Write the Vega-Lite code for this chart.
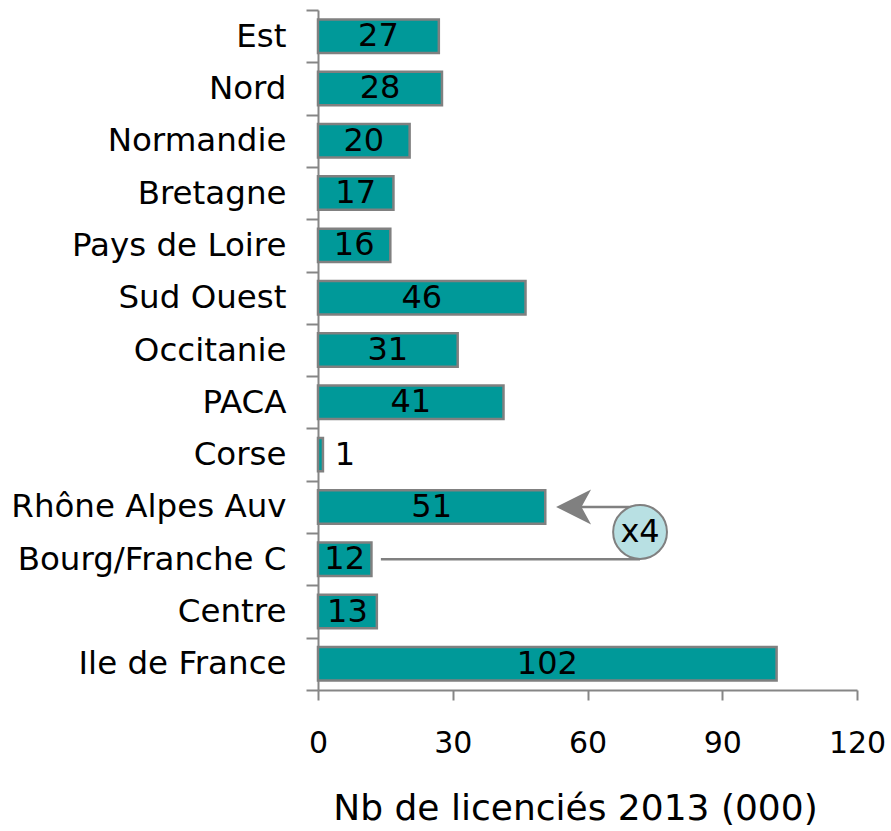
{
  "$schema": "https://vega.github.io/schema/vega-lite/v6.json",
  "autosize": {"type": "none"},
  "width": 539,
  "height": 680,
  "padding": {"left": 318, "top": 10, "right": 34, "bottom": 141},
  "background": "white",
  "config": {
    "view": {"stroke": null},
    "font": "DejaVu Sans",
    "axis": {"grid": false, "domainColor": "#868686", "domainWidth": 2, "tickColor": "#868686", "tickWidth": 2, "labelColor": "#000000", "labelFont": "DejaVu Sans", "titleFont": "DejaVu Sans", "titleColor": "#000000", "titleFontWeight": "normal", "labelLimit": 400}
  },
  "datasets": {
    "bars": [
      {"region": "Est", "v": 26.9},
      {"region": "Nord", "v": 27.6},
      {"region": "Normandie", "v": 20.4},
      {"region": "Bretagne", "v": 16.8},
      {"region": "Pays de Loire", "v": 16.1},
      {"region": "Sud Ouest", "v": 46.2},
      {"region": "Occitanie ", "v": 31.1},
      {"region": "PACA", "v": 41.3},
      {"region": "Corse", "v": 1.1},
      {"region": "Rhône Alpes Auv", "v": 50.6},
      {"region": "Bourg/Franche C", "v": 11.9},
      {"region": "Centre", "v": 13.1},
      {"region": "Ile de France", "v": 102.1}
    ],
    "segs": [
      {"x1": 57.5, "x2": 71.7, "pos": 9.5},
      {"x1": 14.0, "x2": 71.7, "pos": 10.5}
    ],
    "arrow": [{"x": 56.9, "pos": 9.5}],
    "bubble": [{"x": 71.7, "pos": 9.98, "label": "x4"}]
  },
  "layer": [
    {
      "data": {"name": "bars"},
      "transform": [{"calculate": "datum.v / 2", "as": "mid"}],
      "encoding": {
        "y": {
          "field": "region", "type": "nominal", "sort": null,
          "scale": {"paddingInner": 0, "paddingOuter": 0},
          "axis": {"title": null, "labelFontSize": 32.5, "labelPadding": 20, "tickSize": 12, "tickBand": "extent"}
        }
      },
      "layer": [
        {
          "mark": {"type": "bar", "fill": "#009999", "stroke": "#808080", "strokeWidth": 2.5, "height": {"band": 0.64}},
          "encoding": {
            "x": {
              "field": "v", "type": "quantitative",
              "scale": {"domain": [0, 120], "nice": false},
              "axis": {"values": [0, 30, 60, 90, 120], "tickSize": 10, "labelFontSize": 30, "labelPadding": 28, "labelFlush": false, "title": "Nb de licenciés 2013 (000)", "titleFontSize": 36, "titleX": 257, "titleY": 129, "titleAlign": "center", "titleBaseline": "alphabetic"}
            }
          }
        },
        {
          "transform": [{"filter": "datum.v >= 5"}],
          "mark": {"type": "text", "fontSize": 32, "color": "#000000", "align": "center", "baseline": "middle"},
          "encoding": {
            "x": {"field": "mid", "type": "quantitative", "scale": {"domain": [0, 120], "nice": false}},
            "text": {"field": "v", "type": "quantitative", "format": ".0f"}
          }
        },
        {
          "transform": [{"filter": "datum.v < 5"}],
          "mark": {"type": "text", "fontSize": 32, "color": "#000000", "align": "center", "baseline": "middle", "dx": 22},
          "encoding": {
            "x": {"field": "v", "type": "quantitative", "scale": {"domain": [0, 120], "nice": false}},
            "text": {"field": "v", "type": "quantitative", "format": ".0f"}
          }
        }
      ]
    },
    {
      "layer": [
        {
          "data": {"name": "segs"},
          "mark": {"type": "rule", "color": "#808080", "strokeWidth": 2.5},
          "encoding": {
            "x": {"field": "x1", "type": "quantitative", "scale": {"domain": [0, 120], "nice": false}},
            "x2": {"field": "x2"},
            "y": {"field": "pos", "type": "quantitative", "scale": {"domain": [13, 0], "nice": false, "zero": false}, "axis": null}
          }
        },
        {
          "data": {"name": "arrow"},
          "mark": {"type": "point", "shape": "M-1,0L1,-1L0.45,0L1,1Z", "filled": true, "color": "#808080", "opacity": 1, "size": 1225},
          "encoding": {
            "x": {"field": "x", "type": "quantitative", "scale": {"domain": [0, 120], "nice": false}},
            "y": {"field": "pos", "type": "quantitative", "scale": {"domain": [13, 0], "nice": false, "zero": false}, "axis": null}
          }
        },
        {
          "data": {"name": "bubble"},
          "mark": {"type": "point", "shape": "circle", "filled": true, "fill": "#b8e0e3", "stroke": "#808080", "strokeWidth": 2, "opacity": 1, "size": 2900},
          "encoding": {
            "x": {"field": "x", "type": "quantitative", "scale": {"domain": [0, 120], "nice": false}},
            "y": {"field": "pos", "type": "quantitative", "scale": {"domain": [13, 0], "nice": false, "zero": false}, "axis": null}
          }
        },
        {
          "data": {"name": "bubble"},
          "mark": {"type": "text", "fontSize": 32, "color": "#000000", "align": "center", "baseline": "middle"},
          "encoding": {
            "x": {"field": "x", "type": "quantitative", "scale": {"domain": [0, 120], "nice": false}},
            "y": {"field": "pos", "type": "quantitative", "scale": {"domain": [13, 0], "nice": false, "zero": false}, "axis": null},
            "text": {"field": "label"}
          }
        }
      ]
    }
  ],
  "resolve": {"scale": {"y": "independent"}, "axis": {"y": "independent"}}
}
